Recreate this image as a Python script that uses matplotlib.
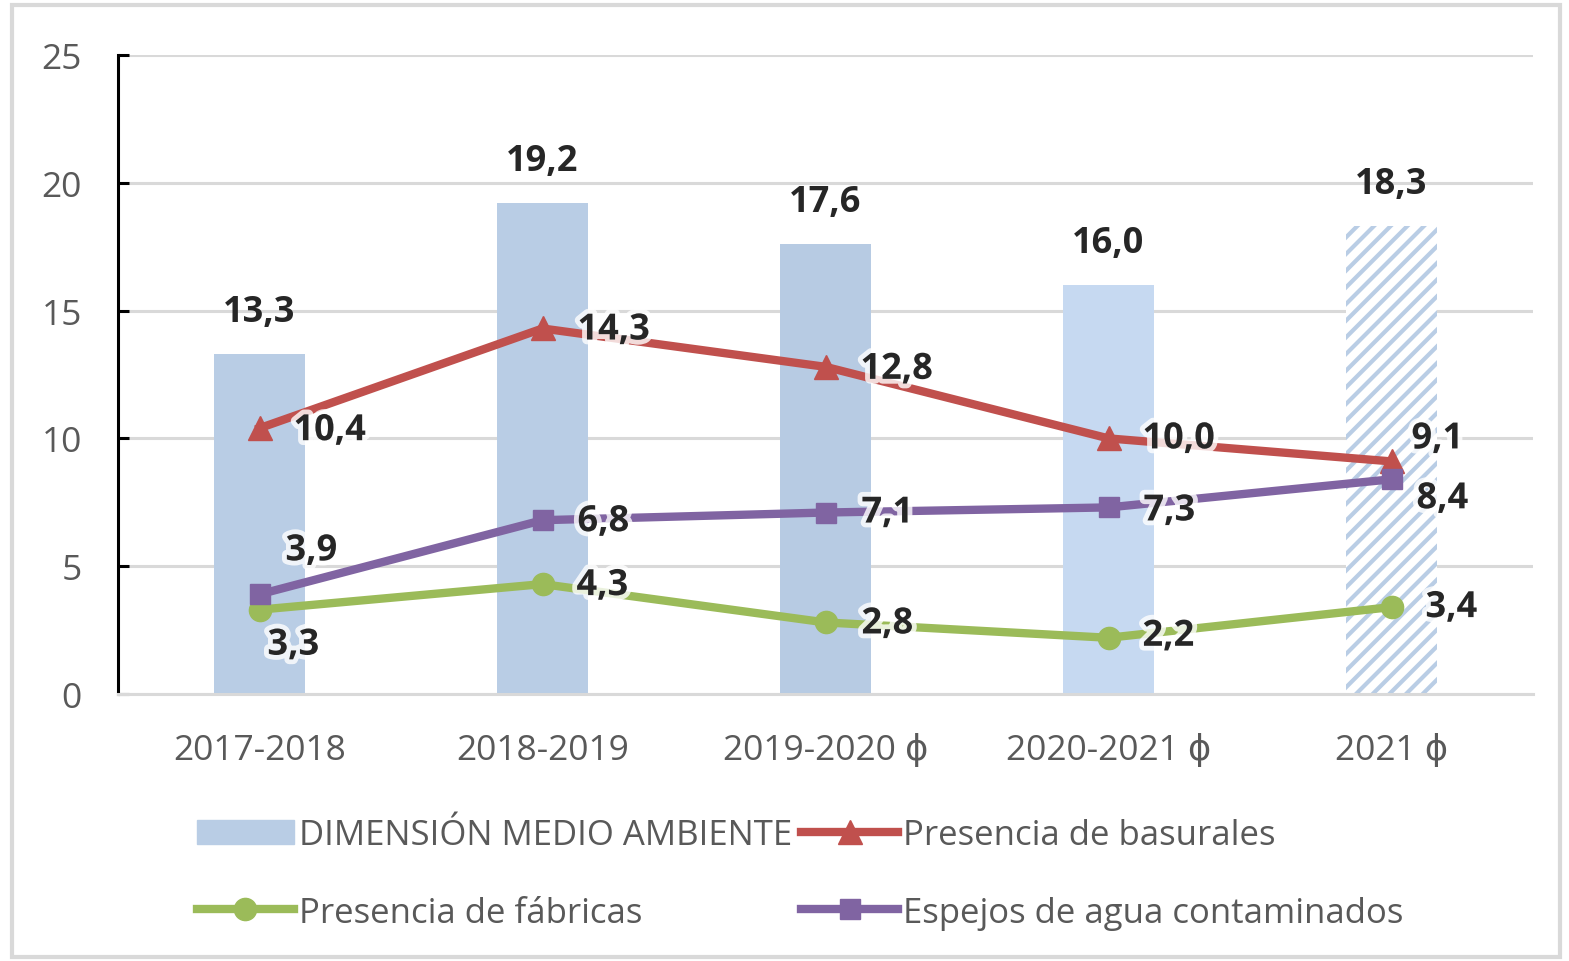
import numpy as np
import matplotlib.pyplot as plt
import matplotlib.patheffects as pe
from matplotlib.patches import Rectangle

plt.rcParams['font.family'] = ['Open Sans', 'DejaVu Sans']
plt.rcParams['hatch.linewidth'] = 3.0

#--data---
periodos   = ['2017-2018', '2018-2019', '2019-2020 \u03d5', '2020-2021 \u03d5', '2021 \u03d5']
dimension  = [13.3, 19.2, 17.6, 16.0, 18.3]
basurales  = [10.4, 14.3, 12.8, 10.0, 9.1]
fabricas   = [3.3, 4.3, 2.8, 2.2, 3.4]
espejos    = [3.9, 6.8, 7.1, 7.3, 8.4]

# label offsets (pixels) for each point
off_bas = [(34, -3), (35, -2), (35, -3), (34, -1), (20, 22)]
off_esp = [(26, 43), (35, -2), (36, -1), (35, -4), (25, -20)]
off_fab = [(8, -36), (34, -2), (36, -2), (34, 1), (34, -1)]

bar_cols = ['#b9cde5', '#b9cde5', '#b7cbe3', '#c6d9f1', 'white']
red, green, purple = '#c0504d', '#9bbb59', '#8064a2'
txt = '#262626'

fig = plt.figure(figsize=(15.69, 9.62), dpi=100)
fig.patches.append(Rectangle((12/1569, 4/962), 1548/1569, 952/962, transform=fig.transFigure,
                             fill=False, edgecolor='#d9d9d9', linewidth=3))
ax = fig.add_axes([118/1569, 1-695/962, 1415/1569, 639/962])

x = np.arange(len(periodos))
bars = ax.bar(x, dimension, width=0.32, color=bar_cols, linewidth=0, zorder=2)
bars[-1].set_hatch('//')
bars[-1].set_edgecolor('#b9cde5')

lw, ms = 6, 17
ax.plot(x, basurales, color=red, lw=lw, marker='^', ms=ms, zorder=3)
ax.plot(x, espejos, color=purple, lw=lw, marker='s', ms=ms-2, zorder=4)
ax.plot(x, fabricas, color=green, lw=lw, marker='o', ms=ms-1, zorder=3)

glow = [pe.withStroke(linewidth=7, foreground='white', alpha=0.8)]
fmt = lambda v: f'{v:.1f}'.replace('.', ',')

for xi, v in zip(x, dimension):
    ax.annotate(fmt(v), (xi, v), xytext=(0, 42), textcoords='offset pixels',
                ha='center', va='center', fontsize=26, fontweight='bold', color=txt)

for vals, offs in [(basurales, off_bas), (espejos, off_esp), (fabricas, off_fab)]:
    for xi, v, o in zip(x, vals, offs):
        ax.annotate(fmt(v), (xi, v), xytext=o, textcoords='offset pixels',
                    ha='left', va='center', fontsize=26, fontweight='bold', color=txt,
                    path_effects=glow, zorder=6)

ax.set_xlim(-0.5, 4.5)
ax.set_ylim(0, 25)
ax.set_yticks(range(0, 26, 5))
ax.set_xticks(x)
ax.set_xticklabels(periodos)
ax.yaxis.grid(True, color='#d9d9d9', lw=2.2, zorder=0)
ax.set_axisbelow(True)

for s in ['top', 'right']:
    ax.spines[s].set_visible(False)
ax.spines['left'].set_color('black')
ax.spines['left'].set_linewidth(2.2)
ax.spines['bottom'].set_color('#d9d9d9')
ax.spines['bottom'].set_linewidth(2.2)

ax.tick_params(axis='y', direction='in', length=8, width=2.2, color='black',
               labelsize=25.5, labelcolor='#595959', pad=26)
ax.tick_params(axis='x', length=0, labelsize=25.5, labelcolor='#595959', pad=28)

# legend
h_bar = Rectangle((0, 0), 1, 1, color='#b9cde5')
h_bas, = ax.plot([], [], color=red, lw=lw, marker='^', ms=ms)
h_fab, = ax.plot([], [], color=green, lw=lw, marker='o', ms=ms-1)
h_esp, = ax.plot([], [], color=purple, lw=lw, marker='s', ms=ms-2)
fig.legend([h_bar, h_fab, h_bas, h_esp],
           ['DIMENSIÓN MEDIO AMBIENTE', 'Presencia de fábricas',
            'Presencia de basurales', 'Espejos de agua contaminados'],
           ncol=2, loc='center', bbox_to_anchor=(0.51, 0.0905), frameon=False,
           fontsize=25, labelcolor='#595959', handlelength=2.8, handletextpad=0.15,
           columnspacing=0.25, labelspacing=1.25)

plt.savefig('out.png', dpi=100)
